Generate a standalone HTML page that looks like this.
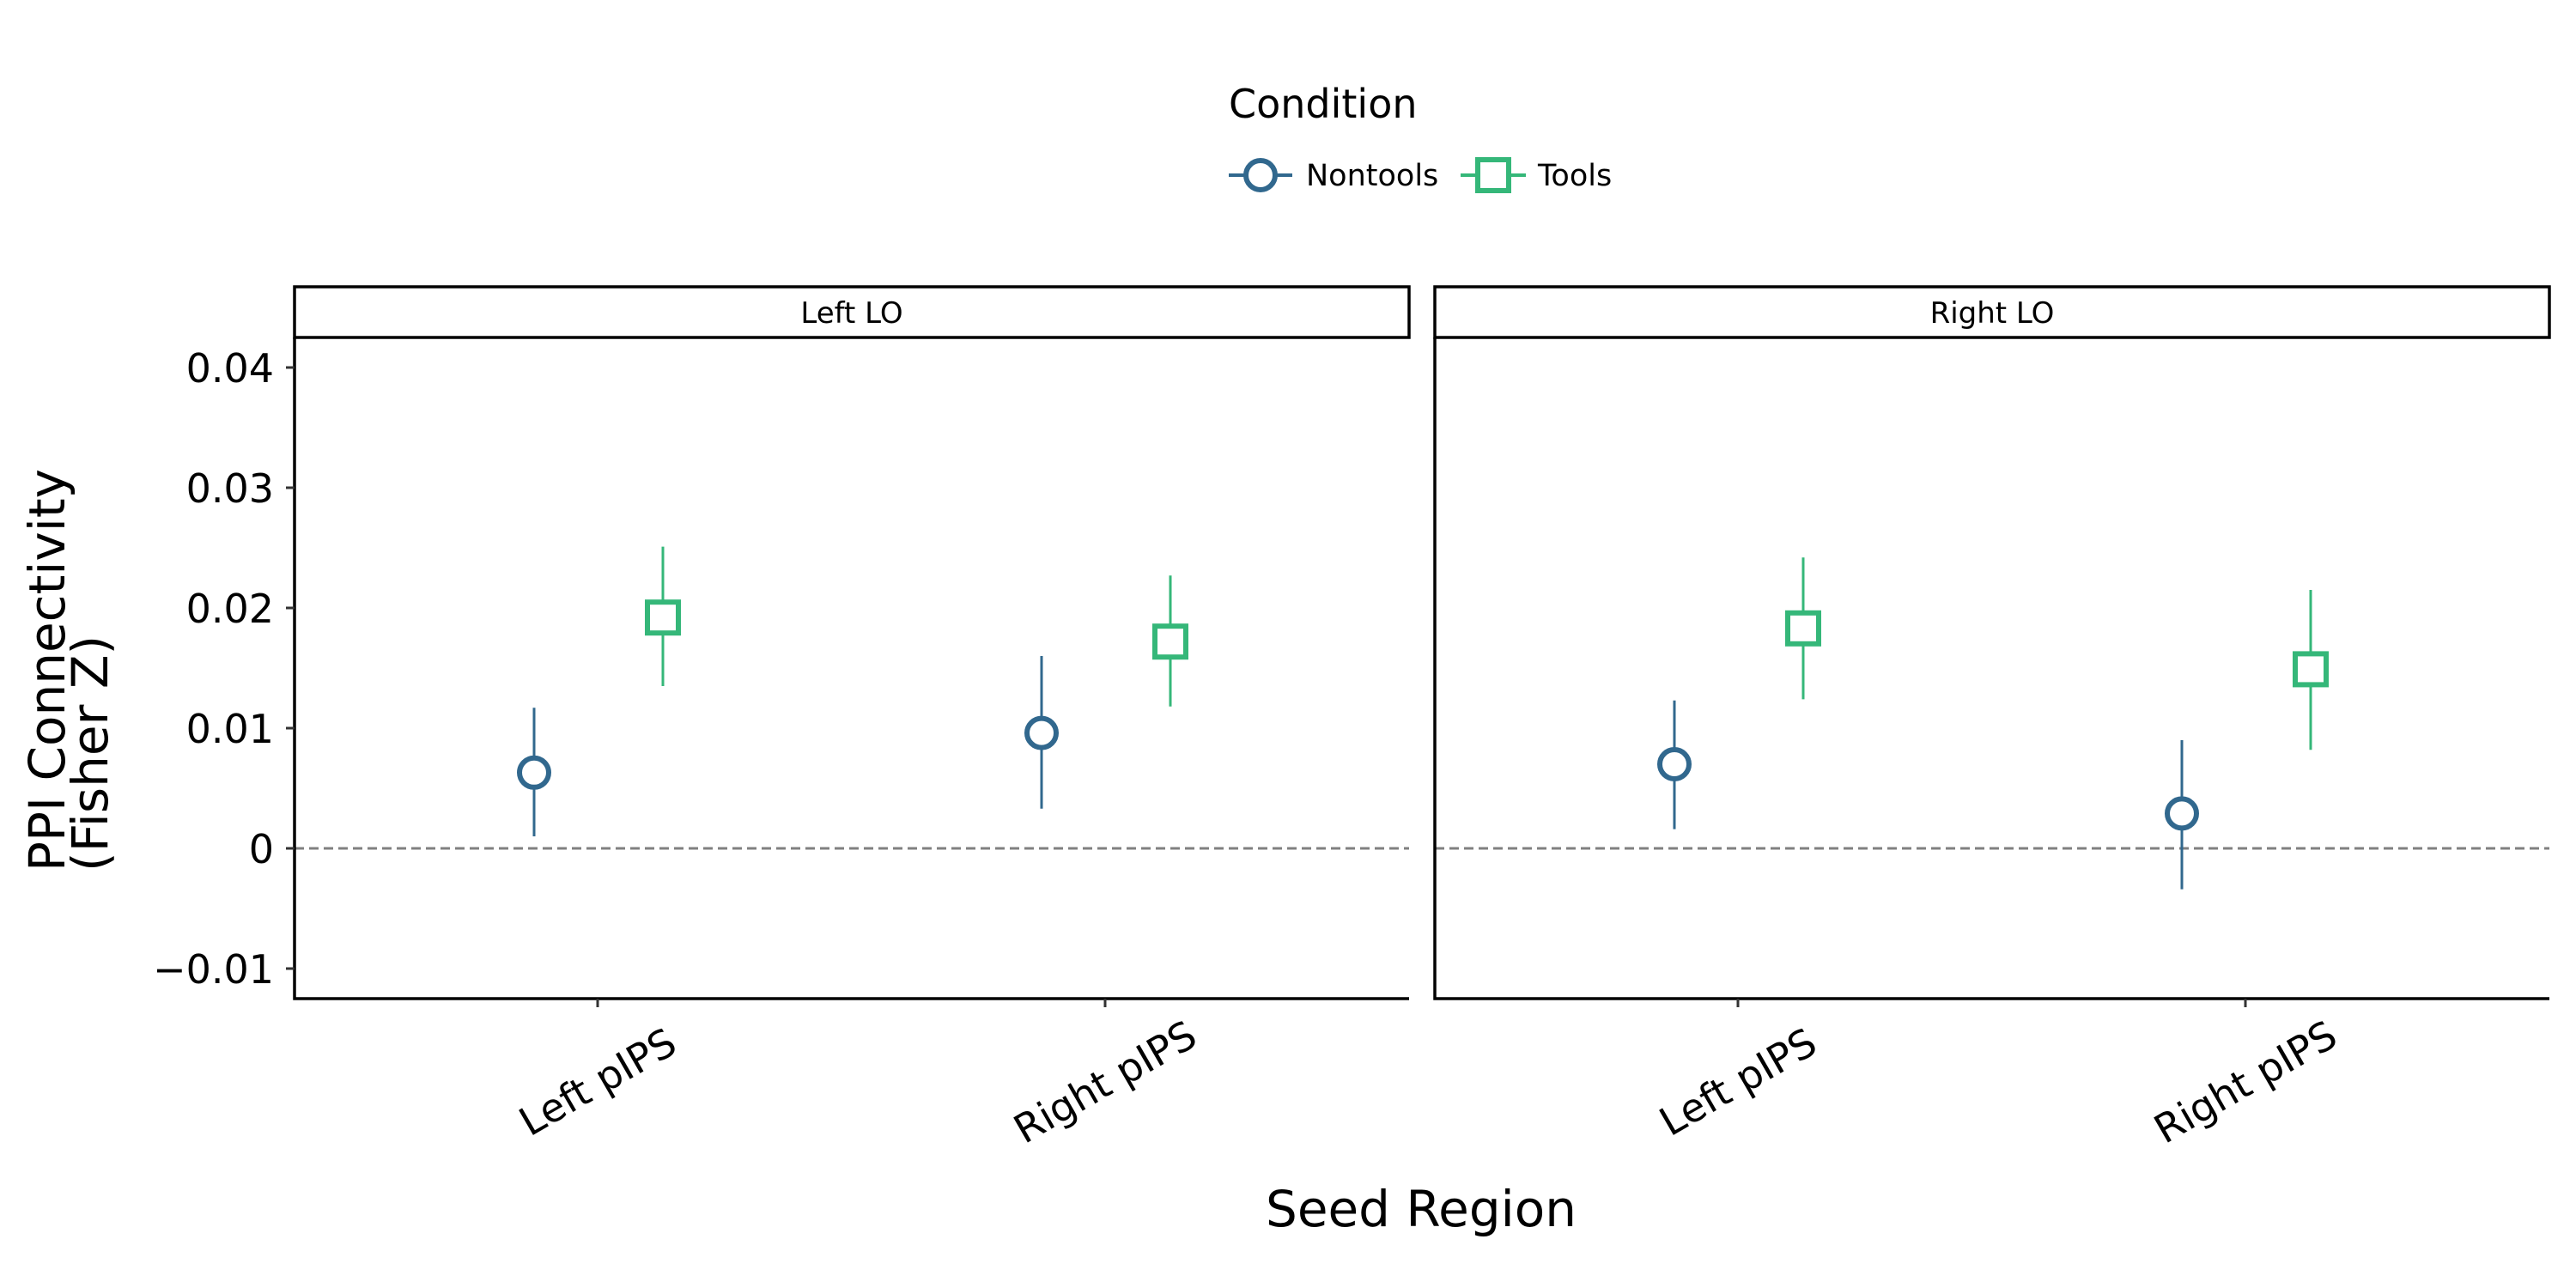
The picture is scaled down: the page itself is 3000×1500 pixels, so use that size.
<!DOCTYPE html>
<html><head><meta charset="utf-8"><style>
body{margin:0;background:#fff}
svg{display:block;font-family:"DejaVu Sans","Liberation Sans",sans-serif}
</style></head><body>
<svg id="chart" width="3000" height="1500" viewBox="0 0 3000 1500">
<g id="legend">
<text x="1431" y="137" font-size="46">Condition</text>
<g>
<line x1="1431" y1="204" x2="1505" y2="204" stroke="#31688e" stroke-width="4"/>
<circle cx="1468" cy="204" r="17" fill="#fff" stroke="#31688e" stroke-width="6"/>
<text x="1521" y="216" font-size="35">Nontools</text></g>
<g>
<line x1="1701" y1="204" x2="1777" y2="204" stroke="#35b779" stroke-width="4"/>
<rect x="1721" y="186" width="36" height="36" fill="#fff" stroke="#35b779" stroke-width="6"/>
<text x="1791" y="216" font-size="35">Tools</text></g>
</g>
<text transform="translate(75,1015) rotate(-90)" font-size="58"><tspan x="0" y="0">PPI Connectivity</tspan><tspan x="0" y="50">(Fisher Z)</tspan></text>
<text x="1655" y="1428" text-anchor="middle" font-size="58">Seed Region</text>
<g id="plots"></g>
</svg>
<script>
const panels = ["Left LO", "Right LO"];
const categories = ["Left pIPS", "Right pIPS"];
const yTicks = [-0.01, 0, 0.01, 0.02, 0.03, 0.04];
const yTickLabels = ["\u22120.01", "0", "0.01", "0.02", "0.03", "0.04"];
const nontoolsMean = [[0.0063, 0.0096], [0.0070, 0.0029]];
const nontoolsLow = [[0.0010, 0.0033], [0.0016, -0.0034]];
const nontoolsHigh = [[0.0117, 0.0160], [0.0123, 0.0090]];
const toolsMean = [[0.0192, 0.0172], [0.0183, 0.0149]];
const toolsLow = [[0.0135, 0.0118], [0.0124, 0.0082]];
const toolsHigh = [[0.0251, 0.0227], [0.0242, 0.0215]];

const NS = "http://www.w3.org/2000/svg";
const plotsG = document.getElementById("plots");
const panelX = [343, 1671], panelW = 1298, plotTop = 393, plotBottom = 1163;
function yScale(v){ return 988 - v * 14000; }
function xScale(p, i){ return panelX[p] + 353 + i * 591; }
function mk(tag, attrs, parent){ const e = document.createElementNS(NS, tag); for (const k in attrs) e.setAttribute(k, attrs[k]); (parent || plotsG).appendChild(e); return e; }

panels.forEach((name, p) => {
  const pg = mk("g", {});
  
  
  const strip = mk("rect", {x: panelX[p], y: 334, width: panelW, height: 59, fill: "#fff", stroke: "#000", "stroke-width": 3.5}, pg);
  
  
  const st = mk("text", {x: panelX[p] + panelW / 2, y: 376, "text-anchor": "middle", "font-size": 34}, pg);
  st.textContent = name;
  
  
  mk("line", {x1: panelX[p], y1: yScale(0), x2: panelX[p] + panelW, y2: yScale(0), stroke: "#808080", "stroke-width": 3, "stroke-dasharray": "11,6"}, pg);
  mk("path", {d: `M${panelX[p]},${plotTop} V${plotBottom} H${panelX[p] + panelW}`, fill: "none", stroke: "#000", "stroke-width": 3.5}, pg);
  if (p === 0) {
    yTicks.forEach((t, k) => {
      mk("line", {x1: panelX[0] - 10, y1: yScale(t), x2: panelX[0], y2: yScale(t), stroke: "#333", "stroke-width": 3}, pg);
      const tl = mk("text", {x: panelX[0] - 24, y: yScale(t) + 17, "text-anchor": "end", "font-size": 46}, pg);
      tl.textContent = yTickLabels[k];
      
      
    });
  }
  categories.forEach((c, i) => {
    const cx = xScale(p, i);
    mk("line", {x1: cx, y1: plotBottom, x2: cx, y2: plotBottom + 10, stroke: "#333", "stroke-width": 3}, pg);
    const xl = mk("text", {transform: `translate(${cx},1260) rotate(-30)`, y: 16, "text-anchor": "middle", "font-size": 46}, pg);
    xl.textContent = c;
    
    
    const nx = cx - 74, tx = cx + 76;
    const e1 = mk("line", {x1: nx, y1: yScale(nontoolsLow[p][i]), x2: nx, y2: yScale(nontoolsHigh[p][i]), stroke: "#31688e", "stroke-width": 3}, pg);
    
    
    const c1 = mk("circle", {cx: nx, cy: yScale(nontoolsMean[p][i]), r: 17, fill: "#fff", stroke: "#31688e", "stroke-width": 6}, pg);
    
    
    const e2 = mk("line", {x1: tx, y1: yScale(toolsLow[p][i]), x2: tx, y2: yScale(toolsHigh[p][i]), stroke: "#35b779", "stroke-width": 3}, pg);
    
    
    const r1 = mk("rect", {x: tx - 18, y: yScale(toolsMean[p][i]) - 18, width: 36, height: 36, fill: "#fff", stroke: "#35b779", "stroke-width": 6}, pg);
    
    
  });
});
</script>
</body></html>
